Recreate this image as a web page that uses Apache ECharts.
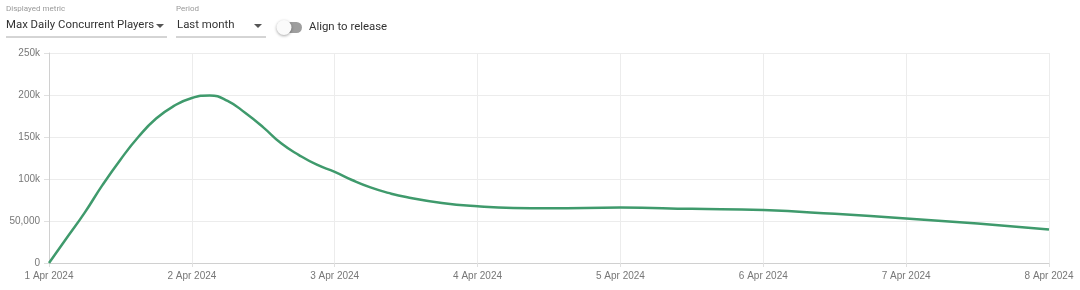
<!DOCTYPE html>
<html>
<head>
<meta charset="utf-8">
<script src="https://cdn.jsdelivr.net/npm/echarts@6/dist/echarts.min.js"></script>
<style>
  html, body { margin: 0; padding: 0; background: #fff; }
  #chart { width: 1080px; height: 290px; }
</style>
</head>
<body>
<div id="chart"></div>
<script>
// hours since 1 Apr 2024 00:00
var hours = [0, 3, 6, 9, 12, 15, 18, 21, 24, 27, 30, 33, 36, 39, 42, 45, 48, 51, 54, 57, 60,
             66, 72, 78, 84, 96, 108, 120, 132, 144, 156, 168];
var players = [0, 30000, 60000, 93000, 123000, 150000, 172000, 187000, 196500, 199500, 193000, 178500,
               161500, 142500, 128500, 117000, 108500, 98500, 90000, 83500, 78500,
               71500, 67500, 65500, 65200, 66000, 64500, 63000, 58500, 53000, 47000, 40000];
var dayLabels = ['1 Apr 2024', '2 Apr 2024', '3 Apr 2024', '4 Apr 2024', '5 Apr 2024', '6 Apr 2024', '7 Apr 2024', '8 Apr 2024'];
var yTicks = {0: '0', 50000: '50,000', 100000: '100k', 150000: '150k', 200000: '200k', 250000: '250k'};

var chart = echarts.init(document.getElementById('chart'));

var seriesData = hours.map(function (h, i) { return [h, players[i]]; });
var labelFont = "'Liberation Sans', Arial, sans-serif";
var uiFont = "Roboto, 'Liberation Sans', sans-serif";

var option = {
    backgroundColor: '#fff',
    animation: false,
    grid: { left: 49, right: 31, top: 53, bottom: 27 },
    xAxis: {
        type: 'value',
        min: 0,
        max: 168,
        interval: 24,
        axisLine: { lineStyle: { color: '#d0d0d0' } },
        axisTick: { show: true, length: 4, lineStyle: { color: '#e0e0e0' } },
        splitLine: { show: true, lineStyle: { color: '#ececec' } },
        axisLabel: {
            color: '#777',
            fontFamily: labelFont,
            fontSize: 10,
            margin: 8,
            formatter: function (v) { return dayLabels[Math.round(v / 24)]; }
        }
    },
    yAxis: {
        type: 'value',
        min: 0,
        max: 250000,
        interval: 50000,
        axisLine: { show: true, lineStyle: { color: '#d0d0d0' } },
        axisTick: { show: true, length: 5, lineStyle: { color: '#e0e0e0' } },
        splitLine: { lineStyle: { color: '#ececec' } },
        axisLabel: {
            color: '#777',
            fontFamily: labelFont,
            fontSize: 10,
            margin: 9,
            formatter: function (v) { return yTicks[v]; }
        }
    },
    series: [{
        name: 'Max Daily Concurrent Players',
        type: 'line',
        data: seriesData,
        smooth: 0.5,
        showSymbol: false,
        lineStyle: { color: '#3f9a6c', width: 2.5 }
    }],
    graphic: [
        { type: 'text', left: 6, top: 5, style: { text: 'Displayed metric', fill: '#999', font: '8px ' + uiFont } },
        { type: 'text', left: 6, top: 20, style: { text: 'Max Daily Concurrent Players', fill: '#333', font: '11.4px ' + uiFont } },
        { type: 'polygon', shape: { points: [[156, 24], [164, 24], [160, 28]] }, style: { fill: '#555' } },
        { type: 'line', shape: { x1: 6, y1: 37, x2: 167, y2: 37 }, style: { stroke: '#aaa', lineWidth: 1 } },
        { type: 'text', left: 176, top: 5, style: { text: 'Period', fill: '#999', font: '8px ' + uiFont } },
        { type: 'text', left: 177, top: 20, style: { text: 'Last month', fill: '#333', font: '11.4px ' + uiFont } },
        { type: 'polygon', shape: { points: [[254, 24], [262, 24], [258, 28]] }, style: { fill: '#555' } },
        { type: 'line', shape: { x1: 176, y1: 37, x2: 266, y2: 37 }, style: { stroke: '#aaa', lineWidth: 1 } },
        { type: 'rect', shape: { x: 278, y: 22, width: 24, height: 11, r: 5.5 }, style: { fill: '#9e9e9e' } },
        { type: 'circle', shape: { cx: 284, cy: 27.5, r: 7.5 }, style: { fill: '#fafafa', shadowBlur: 3, shadowColor: 'rgba(0,0,0,0.35)', shadowOffsetY: 1 } },
        { type: 'text', left: 309, top: 22, style: { text: 'Align to release', fill: '#333', font: '11.4px ' + uiFont } }
    ]
};

chart.setOption(option);
</script>
</body>
</html>
